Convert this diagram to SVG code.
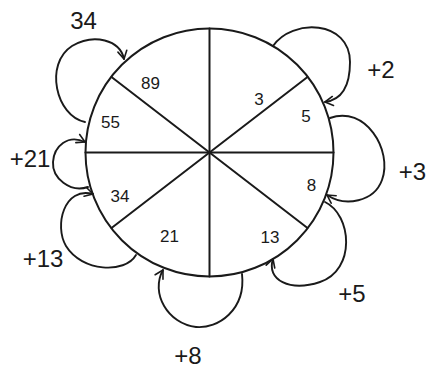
<svg xmlns="http://www.w3.org/2000/svg" width="430" height="368" viewBox="0 0 430 368">
<style>
.ln{fill:none;stroke:#1a1a1a;stroke-width:2;stroke-linecap:round}
.lp{fill:none;stroke:#1a1a1a;stroke-width:1.9;stroke-linecap:round;marker-end:url(#arr)}
.sm{font-family:"Liberation Sans",Arial,sans-serif;font-size:17px;fill:#1a1a1a;text-anchor:middle}
.bg{font-family:"Liberation Sans",Arial,sans-serif;font-size:24px;fill:#1a1a1a;text-anchor:middle}
</style>
<defs>
<marker id="arr" markerUnits="userSpaceOnUse" viewBox="-10 -6 12 12" markerWidth="12" markerHeight="12" refX="0" refY="0" orient="auto">
<path d="M-8,-4.5 L0,0 L-8,4.5" fill="none" stroke="#1a1a1a" stroke-width="1.6" stroke-linecap="round" stroke-linejoin="round"/>
</marker>
</defs>
<rect width="430" height="368" fill="#fff"/>
<g id="wheel">
<circle class="ln" cx="209.5" cy="152.5" r="124"/>
<line class="ln" x1="209.5" y1="28.5" x2="209.5" y2="276.5"/>
<line class="ln" x1="85.5" y1="152.5" x2="333.5" y2="152.5"/>
<line class="ln" x1="111.5" y1="77" x2="307.5" y2="228"/>
<line class="ln" x1="111.5" y1="228" x2="307.5" y2="77"/>
</g>
<g id="n3"><text class="sm" x="259" y="105">3</text></g>
<g id="n5"><text class="sm" x="306" y="122">5</text></g>
<g id="n8"><text class="sm" x="311.5" y="191">8</text></g>
<g id="n13"><text class="sm" x="270" y="243">13</text></g>
<g id="n21"><text class="sm" x="169.5" y="242">21</text></g>
<g id="n34"><text class="sm" x="120" y="202">34</text></g>
<g id="n55"><text class="sm" x="110.5" y="128">55</text></g>
<g id="n89"><text class="sm" x="150.5" y="89">89</text></g>
<g id="connectors">
<path class="lp" d="M273,46 C292,18 350,20 350,62 C350,88 340,100 325,102"/>
<path class="lp" d="M330,118 C365,105 393,150 382,180 C374,202 345,207 327,195"/>
<path class="lp" d="M325,202 C352,215 356,270 320,282 C290,292 266,280 273,259"/>
<path class="lp" d="M242,274 C246,310 218,329 196,327 C168,324 150,293 163,270"/>
<path class="lp" d="M136,255 C125,274 82,272 66,246 C54,226 64,186 93,194"/>
<path class="lp" d="M88,187 C70,193 52,178 53,162 C54,146 68,134 85,142"/>
<path class="lp" d="M85,122 C56,116 44,64 72,46 C94,33 120,40 124,59"/>
</g>
<g id="labels">
<text class="bg" x="381" y="78">+2</text>
<text class="bg" x="412.5" y="180">+3</text>
<text class="bg" x="352" y="302">+5</text>
<text class="bg" x="188" y="364">+8</text>
<text class="bg" x="43" y="267">+13</text>
<text class="bg" x="30" y="167">+21</text>
<text class="bg" x="83.5" y="29">34</text>
</g>
</svg>
